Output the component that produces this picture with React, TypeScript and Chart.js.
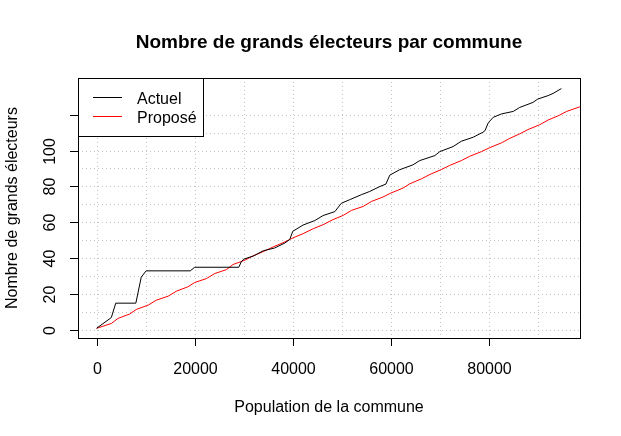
import { useEffect, useRef } from 'react';
import { Chart, registerables } from 'chart.js';

Chart.register(...registerables);

const FONT = '"Liberation Sans", Arial, Helvetica, sans-serif';

const chartTitle = 'Nombre de grands électeurs par commune';
const xTitle = 'Population de la commune';
const yTitle = 'Nombre de grands électeurs';
const seriesNames = ['Actuel', 'Proposé'];

const popActuel = [0, 3000, 3900, 8000, 9100, 10100, 19100, 20000, 29000, 29500, 30000, 32000, 34000, 36300, 38400, 39400, 40000, 42100, 44500, 46200, 48600, 49900, 51600, 54000, 55700, 57800, 59000, 59800, 61800, 64500, 65900, 69000, 70000, 72700, 74400, 76800, 78800, 79200, 79900, 80900, 82600, 85000, 86300, 89000, 90000, 92100, 93100, 94800];
const actuel = [1, 7, 15, 15, 29.5, 33, 33, 35, 35, 38, 39.5, 41.3, 44.2, 45.7, 48.5, 50.5, 55, 58.5, 61, 63.8, 66, 70.6, 72.6, 75.4, 77.2, 80, 81.3, 86.3, 89.3, 92, 94.4, 97.2, 99.4, 102.2, 105.2, 107.4, 110.2, 111, 115.5, 118.5, 120.4, 121.8, 124, 126.8, 128.7, 130.6, 131.8, 134.5];

const popPropose = [0, 3000, 4350, 6700, 8100, 10500, 12200, 14600, 16300, 18600, 20000, 22400, 24100, 26500, 27800, 30200, 31900, 34300, 36000, 38400, 40000, 42100, 44200, 46200, 48200, 50300, 52000, 54400, 56100, 58400, 60000, 62500, 63900, 66300, 68000, 70300, 72000, 74400, 76100, 78500, 80100, 82600, 84300, 86300, 88000, 90400, 92100, 94200, 95900, 98600, 100500];
const propose = [1, 3.7, 6.5, 8.9, 11.5, 13.9, 16.7, 18.9, 21.7, 24.1, 26.5, 28.7, 31.5, 33.7, 36.5, 38.9, 41.3, 44.1, 46.3, 49.1, 51.3, 53.7, 56.5, 58.7, 61.5, 63.9, 66.7, 68.9, 71.7, 74.1, 76.3, 79.1, 81.5, 84.3, 86.7, 89.4, 91.7, 94.4, 96.8, 99.4, 101.5, 104.3, 106.8, 109.3, 111.7, 114.4, 117, 119.4, 121.8, 124.4, 126.5];

const xTicks = [0, 20000, 40000, 60000, 80000];
const xTickLabels = ['0', '20000', '40000', '60000', '80000'];
const yTicks = [0, 20, 40, 60, 80, 100, 120];
const yTickLabels = ['0', '20', '40', '60', '80', '100', ''];
const xGrid = [0, 10000, 20000, 30000, 40000, 50000, 60000, 70000, 80000, 90000];
const yGrid = [0, 10, 20, 30, 40, 50, 60, 70, 80, 90, 100, 110, 120];

const rPlot = {
  id: 'rPlot',
  beforeDatasetsDraw(chart: any) {
    const { ctx, chartArea: a, scales } = chart;
    const x = scales.x;
    const y = scales.y;
    ctx.save();
    ctx.strokeStyle = '#C2C2C2';
    ctx.lineWidth = 1;
    ctx.setLineDash([1, 3]);
    for (const v of xGrid) {
      const px = Math.round(x.getPixelForValue(v)) + 0.5;
      ctx.beginPath();
      ctx.moveTo(px, a.top);
      ctx.lineTo(px, a.bottom);
      ctx.stroke();
    }
    for (const v of yGrid) {
      const py = Math.round(y.getPixelForValue(v)) + 0.5;
      ctx.beginPath();
      ctx.moveTo(a.left, py);
      ctx.lineTo(a.right, py);
      ctx.stroke();
    }
    ctx.restore();
  },
  afterDatasetsDraw(chart: any) {
    const { ctx, chartArea: a, scales } = chart;
    const x = scales.x;
    const y = scales.y;
    ctx.save();
    ctx.setLineDash([]);
    ctx.strokeStyle = '#000';
    ctx.lineWidth = 1;
    // box
    ctx.strokeRect(a.left + 0.5, a.top + 0.5, a.right - a.left, a.bottom - a.top);
    ctx.fillStyle = '#000';
    ctx.font = `16px ${FONT}`;
    // x ticks
    ctx.textAlign = 'center';
    ctx.textBaseline = 'alphabetic';
    xTicks.forEach((v, i) => {
      const px = Math.round(x.getPixelForValue(v)) + 0.5;
      ctx.beginPath();
      ctx.moveTo(px, a.bottom);
      ctx.lineTo(px, a.bottom + 8);
      ctx.stroke();
      ctx.fillText(xTickLabels[i], px, a.bottom + 36);
    });
    // y ticks
    yTicks.forEach((v, i) => {
      const py = Math.round(y.getPixelForValue(v)) + 0.5;
      ctx.beginPath();
      ctx.moveTo(a.left - 8, py);
      ctx.lineTo(a.left, py);
      ctx.stroke();
      if (yTickLabels[i]) {
        ctx.save();
        ctx.translate(a.left - 23, py);
        ctx.rotate(-Math.PI / 2);
        ctx.textAlign = 'center';
        ctx.fillText(yTickLabels[i], 0, 0);
        ctx.restore();
      }
    });
    // axis titles
    const cx = (a.left + a.right) / 2;
    const cy = (a.top + a.bottom) / 2;
    ctx.textAlign = 'center';
    ctx.fillText(xTitle, cx, 412);
    ctx.save();
    ctx.translate(17, cy);
    ctx.rotate(-Math.PI / 2);
    ctx.fillText(yTitle, 0, 0);
    ctx.restore();
    // main title
    ctx.font = `bold 19px ${FONT}`;
    ctx.fillText(chartTitle, cx, 48);
    // legend
    const lx = a.left;
    const ly = a.top;
    const lw = 125;
    const lh = 58;
    ctx.fillStyle = '#fff';
    ctx.fillRect(lx, ly, lw, lh);
    ctx.strokeStyle = '#000';
    ctx.strokeRect(lx + 0.5, ly + 0.5, lw, lh);
    const colors = ['#000000', '#FF0000'];
    const rows = [19.5, 38.5];
    ctx.font = `16px ${FONT}`;
    ctx.textAlign = 'left';
    seriesNames.forEach((name, i) => {
      ctx.strokeStyle = colors[i];
      ctx.beginPath();
      ctx.moveTo(lx + 15, ly + rows[i]);
      ctx.lineTo(lx + 44, ly + rows[i]);
      ctx.stroke();
      ctx.fillStyle = '#000';
      ctx.fillText(name, lx + 59, ly + rows[i] + 6.5);
    });
    ctx.restore();
  },
};

export default function App() {
  const ref = useRef<HTMLCanvasElement | null>(null);
  useEffect(() => {
    if (!ref.current) return;
    const chart = new Chart(ref.current, {
      type: 'scatter',
      data: {
        datasets: [
          {
            label: seriesNames[0],
            data: popActuel.map((p, i) => ({ x: p, y: actuel[i] })),
            showLine: true,
            borderColor: '#000000',
            borderWidth: 1,
            pointRadius: 0,
            tension: 0,
            fill: false,
          },
          {
            label: seriesNames[1],
            data: popPropose.map((p, i) => ({ x: p, y: propose[i] })),
            showLine: true,
            borderColor: '#FF0000',
            borderWidth: 1,
            pointRadius: 0,
            tension: 0,
            fill: false,
          },
        ],
      },
      options: {
        responsive: false,
        animation: false,
        layout: { padding: { left: 78, right: 41, top: 78, bottom: 98 } },
        plugins: {
          legend: { display: false },
          tooltip: { enabled: false },
          title: { display: false },
        },
        scales: {
          x: { type: 'linear', min: -3800, max: 98600, display: false },
          y: { type: 'linear', min: -4.4, max: 140.4, display: false },
        },
      },
      plugins: [rPlot],
    });
    return () => chart.destroy();
  }, []);
  return (
    <div style={{ position: 'absolute', left: 0, top: 0, width: 621, height: 436, background: '#fff' }}>
      <canvas ref={ref} width={621} height={436} style={{ width: 621, height: 436, display: 'block' }} />
    </div>
  );
}
